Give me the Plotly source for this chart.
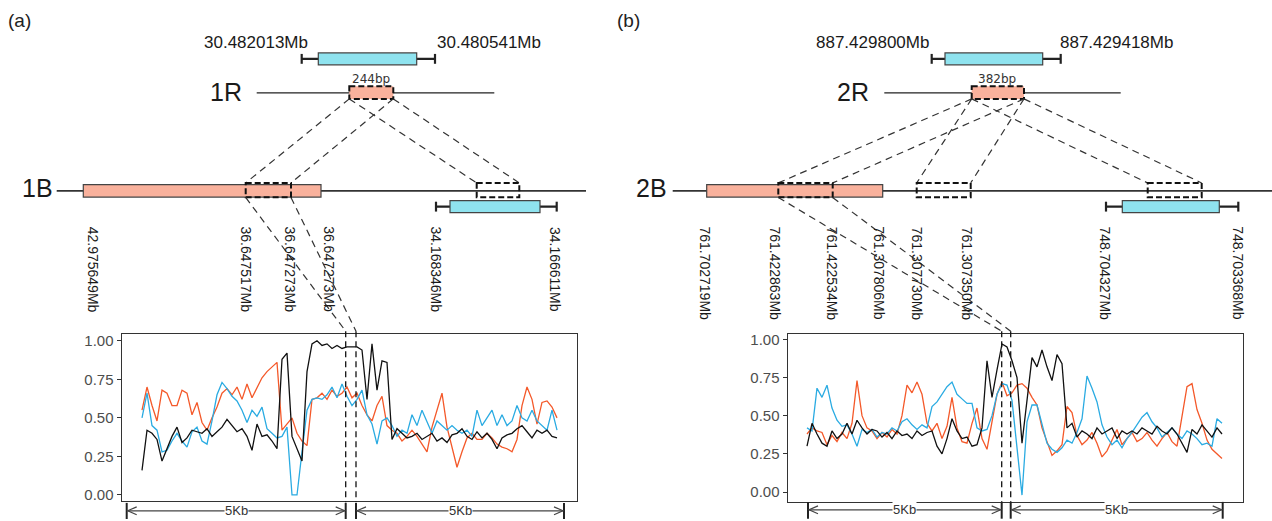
import plotly.graph_objects as go

W, H = 1272, 521

# ---------------- data: sliding-window similarity profiles ----------------
a_black = [0.16, 0.42, 0.40, 0.36, 0.22, 0.30, 0.38, 0.44, 0.34, 0.37,
           0.42, 0.41, 0.40, 0.43, 0.38, 0.41, 0.44, 0.49, 0.45, 0.41,
           0.43, 0.38, 0.29, 0.46, 0.38, 0.39, 0.35, 0.30, 0.88, 0.92,
           0.38, 0.30, 0.22, 0.80, 0.98, 1.00, 0.97, 0.98, 0.95, 0.97,
           0.95, 0.96, 0.96, 0.96, 0.94, 0.62, 0.98, 0.68, 0.87, 0.86,
           0.36, 0.43, 0.40, 0.37, 0.38, 0.40, 0.36, 0.38, 0.40, 0.35,
           0.37, 0.34, 0.39, 0.40, 0.43, 0.38, 0.36, 0.41, 0.37, 0.40,
           0.36, 0.30, 0.37, 0.39, 0.40, 0.43, 0.45, 0.41, 0.37, 0.42,
           0.40, 0.42, 0.38, 0.37]
a_orange = [0.55, 0.70, 0.58, 0.48, 0.68, 0.66, 0.58, 0.58, 0.68, 0.66,
            0.52, 0.60, 0.47, 0.42, 0.50, 0.57, 0.66, 0.69, 0.65, 0.70,
            0.62, 0.72, 0.63, 0.70, 0.76, 0.80, 0.83, 0.86, 0.42, 0.46,
            0.50, 0.40, 0.35, 0.32, 0.62, 0.63, 0.66, 0.62, 0.68, 0.64,
            0.66, 0.70, 0.63, 0.66, 0.58, 0.52, 0.48, 0.58, 0.64, 0.45,
            0.42, 0.40, 0.35, 0.38, 0.42, 0.38, 0.33, 0.28, 0.44, 0.55,
            0.66, 0.44, 0.30, 0.18, 0.28, 0.37, 0.40, 0.36, 0.36, 0.40,
            0.37, 0.33, 0.31, 0.30, 0.28, 0.36, 0.58, 0.70, 0.62, 0.46,
            0.60, 0.61, 0.57, 0.50]
a_blue = [0.50, 0.66, 0.45, 0.42, 0.28, 0.29, 0.35, 0.40, 0.35, 0.31,
          0.41, 0.44, 0.35, 0.33, 0.48, 0.65, 0.73, 0.69, 0.64, 0.61,
          0.55, 0.47, 0.55, 0.51, 0.57, 0.43, 0.40, 0.37, 0.38, 0.44,
          0.00, 0.00, 0.28, 0.55, 0.62, 0.63, 0.62, 0.65, 0.70, 0.63,
          0.72, 0.64, 0.58, 0.62, 0.68, 0.52, 0.46, 0.33, 0.48, 0.50,
          0.45, 0.38, 0.42, 0.40, 0.52, 0.45, 0.55, 0.47, 0.40, 0.48,
          0.45, 0.42, 0.45, 0.42, 0.40, 0.42, 0.38, 0.55, 0.45, 0.50,
          0.55, 0.45, 0.52, 0.45, 0.48, 0.58, 0.50, 0.48, 0.55, 0.48,
          0.45, 0.42, 0.55, 0.42]

b_black = [0.30, 0.45, 0.38, 0.32, 0.30, 0.40, 0.35, 0.38, 0.45, 0.38,
           0.47, 0.42, 0.38, 0.41, 0.40, 0.36, 0.39, 0.35, 0.40, 0.37,
           0.38, 0.35, 0.40, 0.37, 0.39, 0.40, 0.30, 0.25, 0.35, 0.48,
           0.40, 0.35, 0.36, 0.30, 0.31, 0.42, 0.86, 0.62, 0.80, 0.97,
           0.95, 0.86, 0.75, 0.32, 0.60, 0.88, 0.82, 0.93, 0.82, 0.73,
           0.90, 0.84, 0.42, 0.45, 0.36, 0.40, 0.38, 0.35, 0.42, 0.38,
           0.40, 0.42, 0.35, 0.40, 0.38, 0.40, 0.38, 0.42, 0.40, 0.38,
           0.43, 0.40, 0.38, 0.42, 0.38, 0.32, 0.26, 0.41, 0.38, 0.44,
           0.40, 0.36, 0.42, 0.38]
b_orange = [0.38, 0.42, 0.40, 0.39, 0.31, 0.37, 0.33, 0.39, 0.35, 0.45,
            0.73, 0.50, 0.42, 0.40, 0.35, 0.39, 0.36, 0.41, 0.38, 0.50,
            0.70, 0.65, 0.72, 0.64, 0.45, 0.40, 0.45, 0.35, 0.43, 0.62,
            0.42, 0.33, 0.32, 0.45, 0.55, 0.35, 0.28, 0.46, 0.64, 0.72,
            0.63, 0.65, 0.70, 0.71, 0.68, 0.62, 0.57, 0.42, 0.33, 0.24,
            0.27, 0.31, 0.56, 0.52, 0.37, 0.31, 0.34, 0.39, 0.32, 0.23,
            0.27, 0.34, 0.41, 0.31, 0.35, 0.39, 0.33, 0.35, 0.39, 0.34,
            0.30, 0.35, 0.39, 0.33, 0.30, 0.50, 0.69, 0.71, 0.54, 0.45,
            0.34, 0.28, 0.25, 0.22]
b_blue = [0.42, 0.40, 0.68, 0.62, 0.70, 0.55, 0.47, 0.43, 0.44, 0.38,
          0.30, 0.41, 0.39, 0.41, 0.36, 0.39, 0.38, 0.42, 0.40, 0.46,
          0.48, 0.44, 0.41, 0.44, 0.42, 0.56, 0.59, 0.64, 0.69, 0.72,
          0.64, 0.61, 0.58, 0.58, 0.42, 0.40, 0.41, 0.50, 0.64, 0.71,
          0.70, 0.60, 0.30, -0.02, 0.46, 0.57, 0.57, 0.45, 0.32, 0.28,
          0.26, 0.29, 0.34, 0.32, 0.39, 0.48, 0.76, 0.68, 0.59, 0.44,
          0.36, 0.31, 0.34, 0.29, 0.35, 0.39, 0.44, 0.49, 0.52, 0.46,
          0.42, 0.36, 0.39, 0.42, 0.38, 0.35, 0.40, 0.38, 0.35, 0.31,
          0.32, 0.30, 0.48, 0.45]

y_ticks = [0, 0.25, 0.5, 0.75, 1.0]
y_tick_labels = ["0.00", "0.25", "0.50", "0.75", "1.00"]
scale_label = "5Kb"

# schematic annotations (text)
a_top_labels = ["30.482013Mb", "30.480541Mb"]
a_bp = "244bp"
a_chr = ["1R", "1B"]
a_b_labels = ["42.975649Mb", "36.647517Mb", "36.647273Mb", "36.647273Mb",
              "34.168346Mb", "34.166611Mb"]
b_top_labels = ["887.429800Mb", "887.429418Mb"]
b_bp = "382bp"
b_chr = ["2R", "2B"]
b_b_labels = ["761.702719Mb", "761.422863Mb", "761.422534Mb", "761.307806Mb",
              "761.307730Mb", "761.307350Mb", "748.704327Mb", "748.703368Mb"]
panel_tags = ["(a)", "(b)"]

# ---------------- styles ----------------
C_BLACK = "#111111"
C_ORANGE = "#F4592A"
C_BLUE = "#2AABE2"
C_SALMON = "#F9B19C"
C_CYAN = "#8FE3EF"
C_EDGE = "#444444"
FONT = "Liberation Sans, Arial, sans-serif"

fig = go.Figure()

# ---------------- line panels ----------------
def add_profile(vals, color, xa, ya):
    fig.add_trace(go.Scatter(x=list(range(len(vals))), y=vals, mode="lines",
                             line=dict(color=color, width=1.3),
                             xaxis=xa, yaxis=ya, showlegend=False,
                             hoverinfo="skip"))

for vals, col in [(a_orange, C_ORANGE), (a_blue, C_BLUE), (a_black, C_BLACK)]:
    add_profile(vals, col, "x2", "y2")
for vals, col in [(b_orange, C_ORANGE), (b_blue, C_BLUE), (b_black, C_BLACK)]:
    add_profile(vals, col, "x3", "y3")

shapes = []
annotations = []

def line(x0, y0, x1, y1, color="#333333", width=1.3, dash=None, layer="above"):
    d = dict(type="line", xref="x", yref="y", x0=x0, y0=y0, x1=x1, y1=y1,
             line=dict(color=color, width=width), layer=layer)
    if dash:
        d["line"]["dash"] = dash
    shapes.append(d)

def rect(x0, y0, x1, y1, fill, edge=C_EDGE, width=1.2, dash=None):
    d = dict(type="rect", xref="x", yref="y", x0=x0, y0=y0, x1=x1, y1=y1,
             fillcolor=fill, line=dict(color=edge, width=width), layer="above")
    if dash:
        d["line"]["dash"] = dash
    shapes.append(d)

def text(x, y, s, size=15, angle=0, xanchor="center", yanchor="middle",
         color="#1a1a1a", bg=None, family=FONT):
    d = dict(x=x, y=y, xref="x", yref="y", text=s, showarrow=False,
             font=dict(size=size, color=color, family=family), textangle=angle,
             xanchor=xanchor, yanchor=yanchor)
    if bg:
        d["bgcolor"] = bg
        d["borderpad"] = 0
    annotations.append(d)

def whisker_box(x0, x1, bx0, bx1, yc, half=6):
    line(x0, yc, x1, yc, color="#222222", width=2.2)
    line(x0, yc - 5, x0, yc + 5, color="#222222", width=2.2)
    line(x1, yc - 5, x1, yc + 5, color="#222222", width=2.2)
    rect(bx0, yc - half, bx1, yc + half, C_CYAN)

def dbox(x0, x1, y0=181, y1=195.5):
    rect(x0, y0, x1, y1, "rgba(0,0,0,0)", edge="#111111", width=2,
         dash="6px,3px")

CONN = "7px,5px"

def bracket(xl, xm, xr, xs, y):
    for xv in (xl, xm, xr, xs):
        line(xv, y - 8, xv, y + 9, color="#222222", width=2)
    for (p, q) in ((xl, xm), (xr, xs)):
        line(p + 1, y, q - 1, y, color="#444444", width=1.2)
        for tip, sgn in ((p + 1, 1), (q - 1, -1)):
            shapes.append(dict(type="path", xref="x", yref="y",
                               path=f"M {tip + sgn * 9},{y - 4} L {tip},{y} L {tip + sgn * 9},{y + 4}",
                               line=dict(color="#444444", width=1.2), layer="above"))
        text((p + q) / 2, y, scale_label, size=13, color="#333333", bg="white")

# ---------------- panel (a) schematic ----------------
text(19, 17, panel_tags[0], size=19, color="#222222")
text(256, 39, a_top_labels[0], size=17)
text(489, 39, a_top_labels[1], size=17)
whisker_box(301.7, 435, 318.3, 416.7, 55.5)
text(371.3, 76, a_bp, size=12, color="#333333", family="DejaVu Sans, sans-serif")
text(226, 89.5, a_chr[0], size=25)
line(256.7, 90, 494.3, 90, color="#222222", width=1.3, layer="below")
rect(349.3, 83.3, 393.3, 96, C_SALMON, edge="#111111", width=2, dash="6px,3px")
line(349.3, 96, 245.7, 181, dash=CONN, width=1.2)
line(393.3, 96, 291, 181, dash=CONN, width=1.2)
line(349.3, 96, 476.7, 181, dash=CONN, width=1.2)
line(393.3, 96, 519.3, 181, dash=CONN, width=1.2)

text(37.5, 186.5, a_chr[1], size=25)
line(56.7, 189, 586, 189, color="#333333", width=1.8)
rect(83.3, 182.7, 321, 195.3, C_SALMON)
dbox(245.7, 291)
dbox(476.7, 519.3)
whisker_box(436, 556.7, 450, 540, 205)
for xv, s in zip([92.7, 246, 290, 328.3, 436, 555], a_b_labels):
    text(xv, 223, s, size=14, angle=90, yanchor="top")
line(245.7, 195.7, 345.7, 331, dash=CONN, width=1.2)
line(291, 195.7, 356, 331, dash=CONN, width=1.2)
line(345.7, 331, 345.7, 504, dash="6px,4px", width=1.3, color="#111111")
line(356, 331, 356, 504, dash="6px,4px", width=1.3, color="#111111")
bracket(126.7, 345.7, 356, 564, 512.7)

# ---------------- panel (b) schematic ----------------
text(628, 17, panel_tags[1], size=19, color="#222222")
text(872.5, 39.3, b_top_labels[0], size=17)
text(1116, 39.3, b_top_labels[1], size=17)
whisker_box(931.7, 1060.7, 945, 1042.7, 55.5)
text(996.7, 76, b_bp, size=12, color="#333333", family="DejaVu Sans, sans-serif")
text(853, 89.5, b_chr[0], size=25)
line(884.3, 90, 1120.7, 90, color="#222222", width=1.3, layer="below")
rect(971.7, 83.3, 1024, 96, C_SALMON, edge="#111111", width=2, dash="6px,3px")
for (l, r) in ((778.3, 832.7), (916.7, 970.7), (1147.7, 1201.7)):
    line(971.7, 96, l, 181, dash=CONN, width=1.2)
    line(1024, 96, r, 181, dash=CONN, width=1.2)

text(651.7, 186.5, b_chr[1], size=25)
line(672.7, 189, 1272, 189, color="#333333", width=1.8)
rect(706.7, 182.7, 882.7, 195.3, C_SALMON)
dbox(778.3, 832.7)
dbox(916.7, 970.7)
dbox(1147.7, 1201.7)
whisker_box(1106, 1238.3, 1122.3, 1219.3, 205)
for xv, s in zip([705, 775, 831.7, 878.3, 916.7, 966.7, 1105, 1237.3], b_b_labels):
    text(xv, 223, s, size=14, angle=90, yanchor="top")
line(778.3, 195.7, 1001.7, 331, dash=CONN, width=1.2)
line(832.7, 195.7, 1010.7, 331, dash=CONN, width=1.2)
line(1001.7, 331, 1001.7, 504, dash="6px,4px", width=1.3, color="#111111")
line(1010.7, 331, 1010.7, 504, dash="6px,4px", width=1.3, color="#111111")
bracket(808, 1001.7, 1010.7, 1222.7, 511.7)

# ---------------- layout ----------------
def plot_axes(dom_x, dom_y, xr, yr, anchor_x, anchor_y):
    xa = dict(domain=dom_x, range=xr, showgrid=False, zeroline=False,
              showticklabels=False, ticks="", showline=True, mirror=True,
              linecolor="#333333", linewidth=1.4, anchor=anchor_y)
    ya = dict(domain=dom_y, range=yr, showgrid=False, zeroline=False,
              tickvals=y_ticks, ticktext=y_tick_labels, ticks="outside",
              ticklen=4, tickwidth=1.2, tickcolor="#333333",
              tickfont=dict(size=15, color="#4d4d4d", family=FONT),
              showline=True, mirror=True, linecolor="#333333", linewidth=1.4,
              anchor=anchor_x)
    return xa, ya

xa2, ya2 = plot_axes([121.7 / W, 577 / W], [1 - 503 / H, 1 - 334 / H],
                     [-4.06, 87.0], [-0.0404, 1.043], "x2", "y2")
xa3, ya3 = plot_axes([787.7 / W, 1243 / W], [1 - 504 / H, 1 - 334 / H],
                     [-3.86, 87.2], [-0.0667, 1.034], "x3", "y3")

fig.update_layout(
    width=W, height=H, margin=dict(l=0, r=0, t=0, b=0),
    paper_bgcolor="white", plot_bgcolor="white", showlegend=False,
    xaxis=dict(domain=[0, 1], range=[0, W], visible=False, fixedrange=True),
    yaxis=dict(domain=[0, 1], range=[H, 0], visible=False, fixedrange=True),
    xaxis2=xa2, yaxis2=ya2, xaxis3=xa3, yaxis3=ya3,
    shapes=shapes, annotations=annotations,
)

fig.write_html("out.html")
